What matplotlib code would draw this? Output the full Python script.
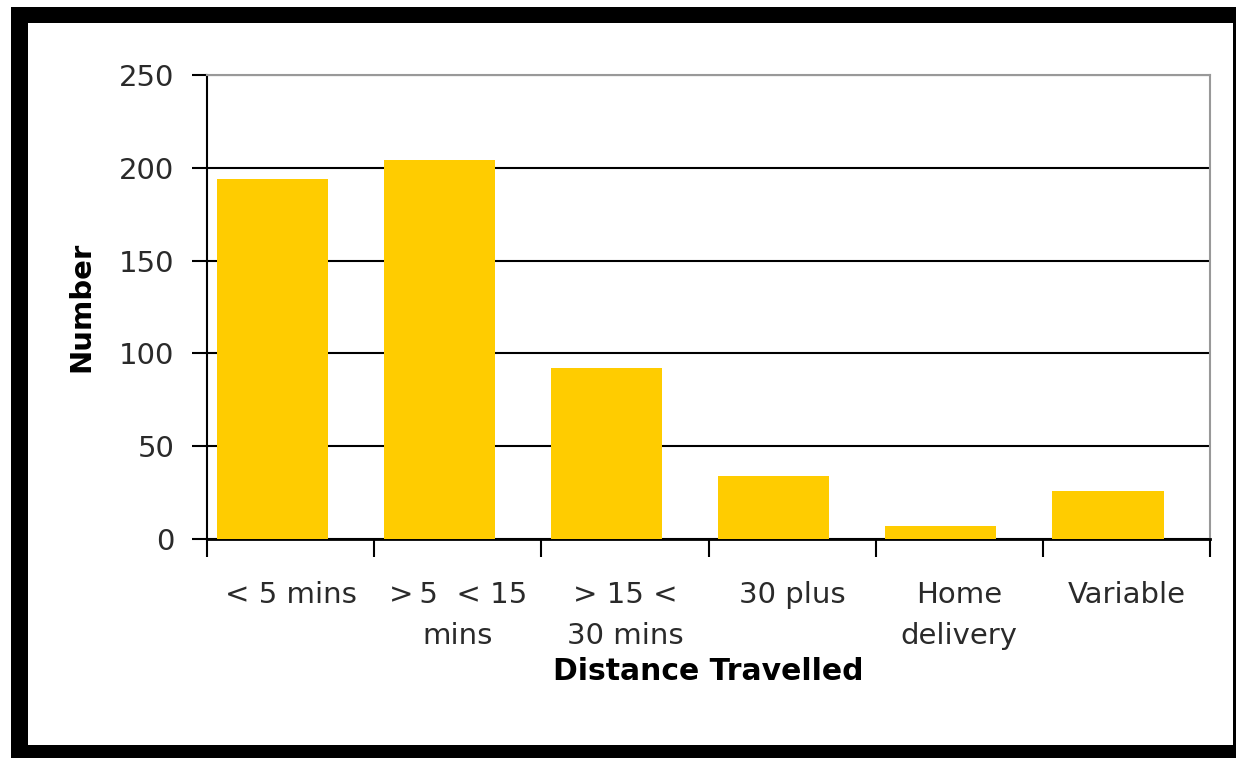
import matplotlib
matplotlib.use("Agg")
import matplotlib.pyplot as plt
from matplotlib.patches import Rectangle
import numpy as np

# survey counts by travel time
categories = ["< 5 mins", ">\u20095  < 15\nmins", "> 15 <\n30 mins", "30 plus", "Home\ndelivery", "Variable"]
counts = [194, 204, 92, 34, 7, 26]
yticks = [0, 50, 100, 150, 200, 250]

plt.rcParams['font.family'] = ['DejaVu Sans']

fig = plt.figure(figsize=(12.36, 7.58), dpi=100)
fig.patch.set_facecolor("white")

# black frame round the chart
W, H = 1236, 758
def px_rect(x0, y0, x1, y1, color):
    fig.patches.append(Rectangle((x0 / W, 1 - y1 / H), (x1 - x0) / W, (y1 - y0) / H,
                                 transform=fig.transFigure, facecolor=color,
                                 edgecolor="none", zorder=0))
px_rect(11, 7, 1236, 23, "black")
px_rect(11, 7, 28, 758, "black")
px_rect(11, 745, 1236, 758, "black")
px_rect(1233, 7, 1236, 758, "black")

ax = fig.add_axes([207 / W, 1 - 539 / H, (1210 - 207) / W, (539 - 75) / H])
x = np.arange(len(categories))
# bars sit a little left of the category centre
ax.bar(x - 0.11, counts, width=0.665, color="#FFCC00", zorder=3)

ax.set_xlim(-0.5, len(categories) - 0.5)
ax.set_ylim(0, 250)
ax.set_yticks(yticks)
ax.yaxis.grid(True, color="black", linewidth=1.5, zorder=1)
ax.tick_params(axis="y", length=11, width=1.5, pad=12.5, labelsize=21, labelcolor="#2a2a2a")

# labels centred under the category, tick marks between them
ax.set_xticks(x)
ax.set_xticklabels(categories, linespacing=1.6)
ax.set_xticks(np.arange(len(categories) + 1) - 0.5, minor=True)
ax.tick_params(axis="x", which="major", length=0, pad=30, labelsize=21, labelcolor="#2a2a2a")
ax.tick_params(axis="x", which="minor", length=13, width=1.5)

for s in ["top", "right"]:
    ax.spines[s].set_color("#999999")
    ax.spines[s].set_linewidth(1.5)
ax.spines["left"].set_linewidth(1.5)
ax.spines["bottom"].set_linewidth(2)

ax.set_xlabel("Distance Travelled", fontsize=21.5, fontweight="bold", labelpad=5)
ax.set_ylabel("Number", fontsize=21, fontweight="bold", labelpad=17)

fig.savefig("out.png", dpi=100)
